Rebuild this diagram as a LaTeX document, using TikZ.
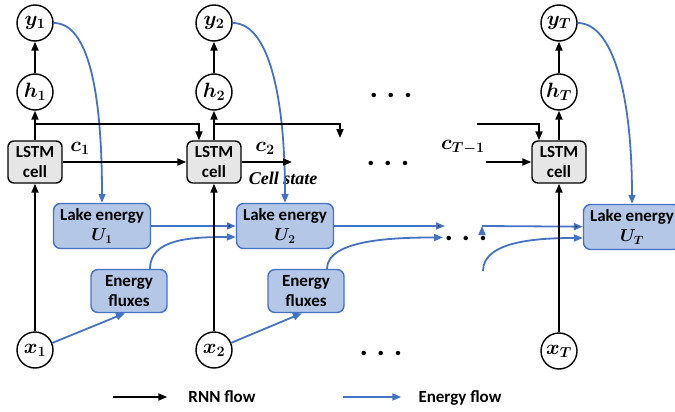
\documentclass[tikz,border=0pt]{standalone}
\usepackage{amsmath}
\usepackage[no-math]{fontspec}
\setmainfont{Carlito}
\newfontfamily\statefont{Liberation Serif}
\usetikzlibrary{arrows.meta}
\definecolor{lakefill}{RGB}{180,199,231}
\definecolor{lakeline}{RGB}{68,114,196}
\definecolor{cellfill}{RGB}{231,230,230}

\begin{document}
\begin{tikzpicture}[x=1pt, y=-1pt,
    var/.style={shape=circle, draw=black, line width=1.4pt, fill=white, minimum size=36pt, inner sep=0pt, font=\fontsize{20.74}{22}\selectfont},
    lstm/.style={shape=rectangle, draw=black, line width=1.4pt, rounded corners=6pt, fill=cellfill, minimum width=54pt, minimum height=42pt, inner sep=0pt, align=center, font=\fontsize{17}{20}\selectfont\bfseries},
    lake/.style={shape=rectangle, draw=lakeline, line width=1.4pt, rounded corners=7pt, fill=lakefill, minimum width=97pt, minimum height=45pt, inner sep=0pt, align=center, font=\fontsize{17}{20}\selectfont\bfseries},
    flux/.style={shape=rectangle, draw=lakeline, line width=1.4pt, rounded corners=7pt, fill=lakefill, minimum width=76pt, minimum height=43pt, inner sep=0pt, align=center, font=\fontsize{17}{20}\selectfont\bfseries},
    sym/.style={font=\fontsize{20.74}{22}\selectfont, inner sep=0pt},
    dotrow/.style={font=\fontsize{30}{30}\selectfont\bfseries, inner sep=0pt},
    legend/.style={font=\fontsize{17}{20}\selectfont\bfseries, inner sep=0pt, text height=11pt, text depth=0pt},
    rnn/.style={-{Triangle[length=9pt,width=7pt]}, line width=1.8pt, draw=black},
    energy/.style={-{Triangle[length=9pt,width=7pt]}, line width=1.8pt, draw=lakeline},
]
    \clip (0,0) rectangle (675,412);

    \node[var] (y1) at (35,23) {$\boldsymbol{y_1}$};
    \node[var] (h1) at (35,92) {$\boldsymbol{h_1}$};
    \node[lstm] (L1) at (35,162) {LSTM\\cell};
    \node[lake] (U1) at (102,226) {Lake energy\\$\boldsymbol{U_1}$};
    \node[flux] (F1) at (129,291) {Energy\\fluxes};
    \node[var] (x1) at (35,350) {$\boldsymbol{x_1}$};

    \node[var] (y2) at (214,23) {$\boldsymbol{y_2}$};
    \node[var] (h2) at (214,92) {$\boldsymbol{h_2}$};
    \node[lstm] (L2) at (214,162) {LSTM\\cell};
    \node[lake] (U2) at (285,226) {Lake energy\\$\boldsymbol{U_2}$};
    \node[flux] (F2) at (306,291) {Energy\\fluxes};
    \node[var] (x2) at (214,350) {$\boldsymbol{x_2}$};

    \node[var] (yT) at (559,23) {$\boldsymbol{y_T}$};
    \node[var] (hT) at (559,92) {$\boldsymbol{h_T}$};
    \node[lstm] (LT) at (559,162) {LSTM\\cell};
    \node[lake] (UT) at (632,227) {Lake energy\\$\boldsymbol{U_T}$};
    \node[var] (xT) at (559,351) {$\boldsymbol{x_T}$};

    \node[sym] (c1) at (80,148) {$\boldsymbol{c_1}$};
    \node[sym] (c2) at (265,148) {$\boldsymbol{c_2}$};
    \node[sym] (cTm) at (463,147) {$\boldsymbol{c_{T-1}}$};
    \node[font=\statefont\fontsize{18}{18}\selectfont\bfseries\itshape, inner sep=0pt] (CellState) at (283,178) {Cell state};

    \node[dotrow] (DotsH) at (391,95) {.\hspace{9pt}.\hspace{9pt}.};
    \node[dotrow] (DotsC) at (388,163) {.\hspace{9pt}.\hspace{9pt}.};
    \node[dotrow] (DotsU) at (466,238) {.\hspace{9pt}.\hspace{9pt}.};
    \node[dotrow] (DotsX) at (381,353) {.\hspace{9pt}.\hspace{9pt}.};

    \node[legend] (RNNLab) at (222,397) {RNN flow};
    \node[legend] (EnLab) at (460,397) {Energy flow};

    \coordinate (UOut) at (445,226);
    \coordinate (FOut) at (443,237.5);
    \coordinate (UIn) at (482,226);
    \coordinate (FIn) at (483,271);
    \coordinate (RNNKey) at (113,397);
    \coordinate (EnKey) at (343,397);

    \draw[energy] (y1.east) .. controls +(35,0) and +(0,-110) .. (U1.north);
    \draw[energy] (y2.east) .. controls +(35,0) and +(0,-110) .. (U2.north);
    \draw[energy] (yT.east) .. controls +(35,0) and +(0,-110) .. (UT.north);
    \path [energy] (U1) edge (U2);
    \path [energy] (U2) edge (UOut);
    \path [energy] (UIn) edge (UT);
    \draw[energy] ([xshift=21pt]F1.north) .. controls +(0,-30) and +(-45,0) .. ([yshift=-11pt]U2.west);
    \draw[energy] ([xshift=21pt]F2.north) .. controls +(0,-30) and +(-45,0) .. (FOut);
    \draw[energy] (FIn) .. controls +(0,-30) and +(-45,0) .. ([yshift=-11pt]UT.west);
    \draw[energy] (x1) -- ([xshift=-4pt]F1.south);
    \draw[energy] (x2) -- ([xshift=-4pt]F2.south);
    \draw[energy] (EnKey) -- ([xshift=-17pt]EnLab.west);

    \coordinate (Tap1) at (35,124);
    \coordinate (Tap2) at (214,124);
    \coordinate (HOut) at (340,138);
    \coordinate (HIn) at (477,124);
    \coordinate (COut) at (292,162);
    \coordinate (CIn) at (486,162);

    \path [rnn] (x1) edge (L1);
    \path [rnn] (L1) edge (h1);
    \path [rnn] (h1) edge (y1);
    \path [rnn] (x2) edge (L2);
    \path [rnn] (L2) edge (h2);
    \path [rnn] (h2) edge (y2);
    \path [rnn] (xT) edge (LT);
    \path [rnn] (LT) edge (hT);
    \path [rnn] (hT) edge (yT);
    \draw[rnn] (Tap1) -| ([xshift=-15pt]L2.north);
    \draw[rnn] (Tap2) -| (HOut);
    \draw[rnn] (HIn) -| ([xshift=-20pt]LT.north);
    \path [rnn] (L1) edge (L2);
    \path [rnn] (L2) edge (COut);
    \draw[rnn] (CIn) -- (LT.west);
    \draw[rnn] (RNNKey) -- ([xshift=-21pt]RNNLab.west);

\end{tikzpicture}
\end{document}
